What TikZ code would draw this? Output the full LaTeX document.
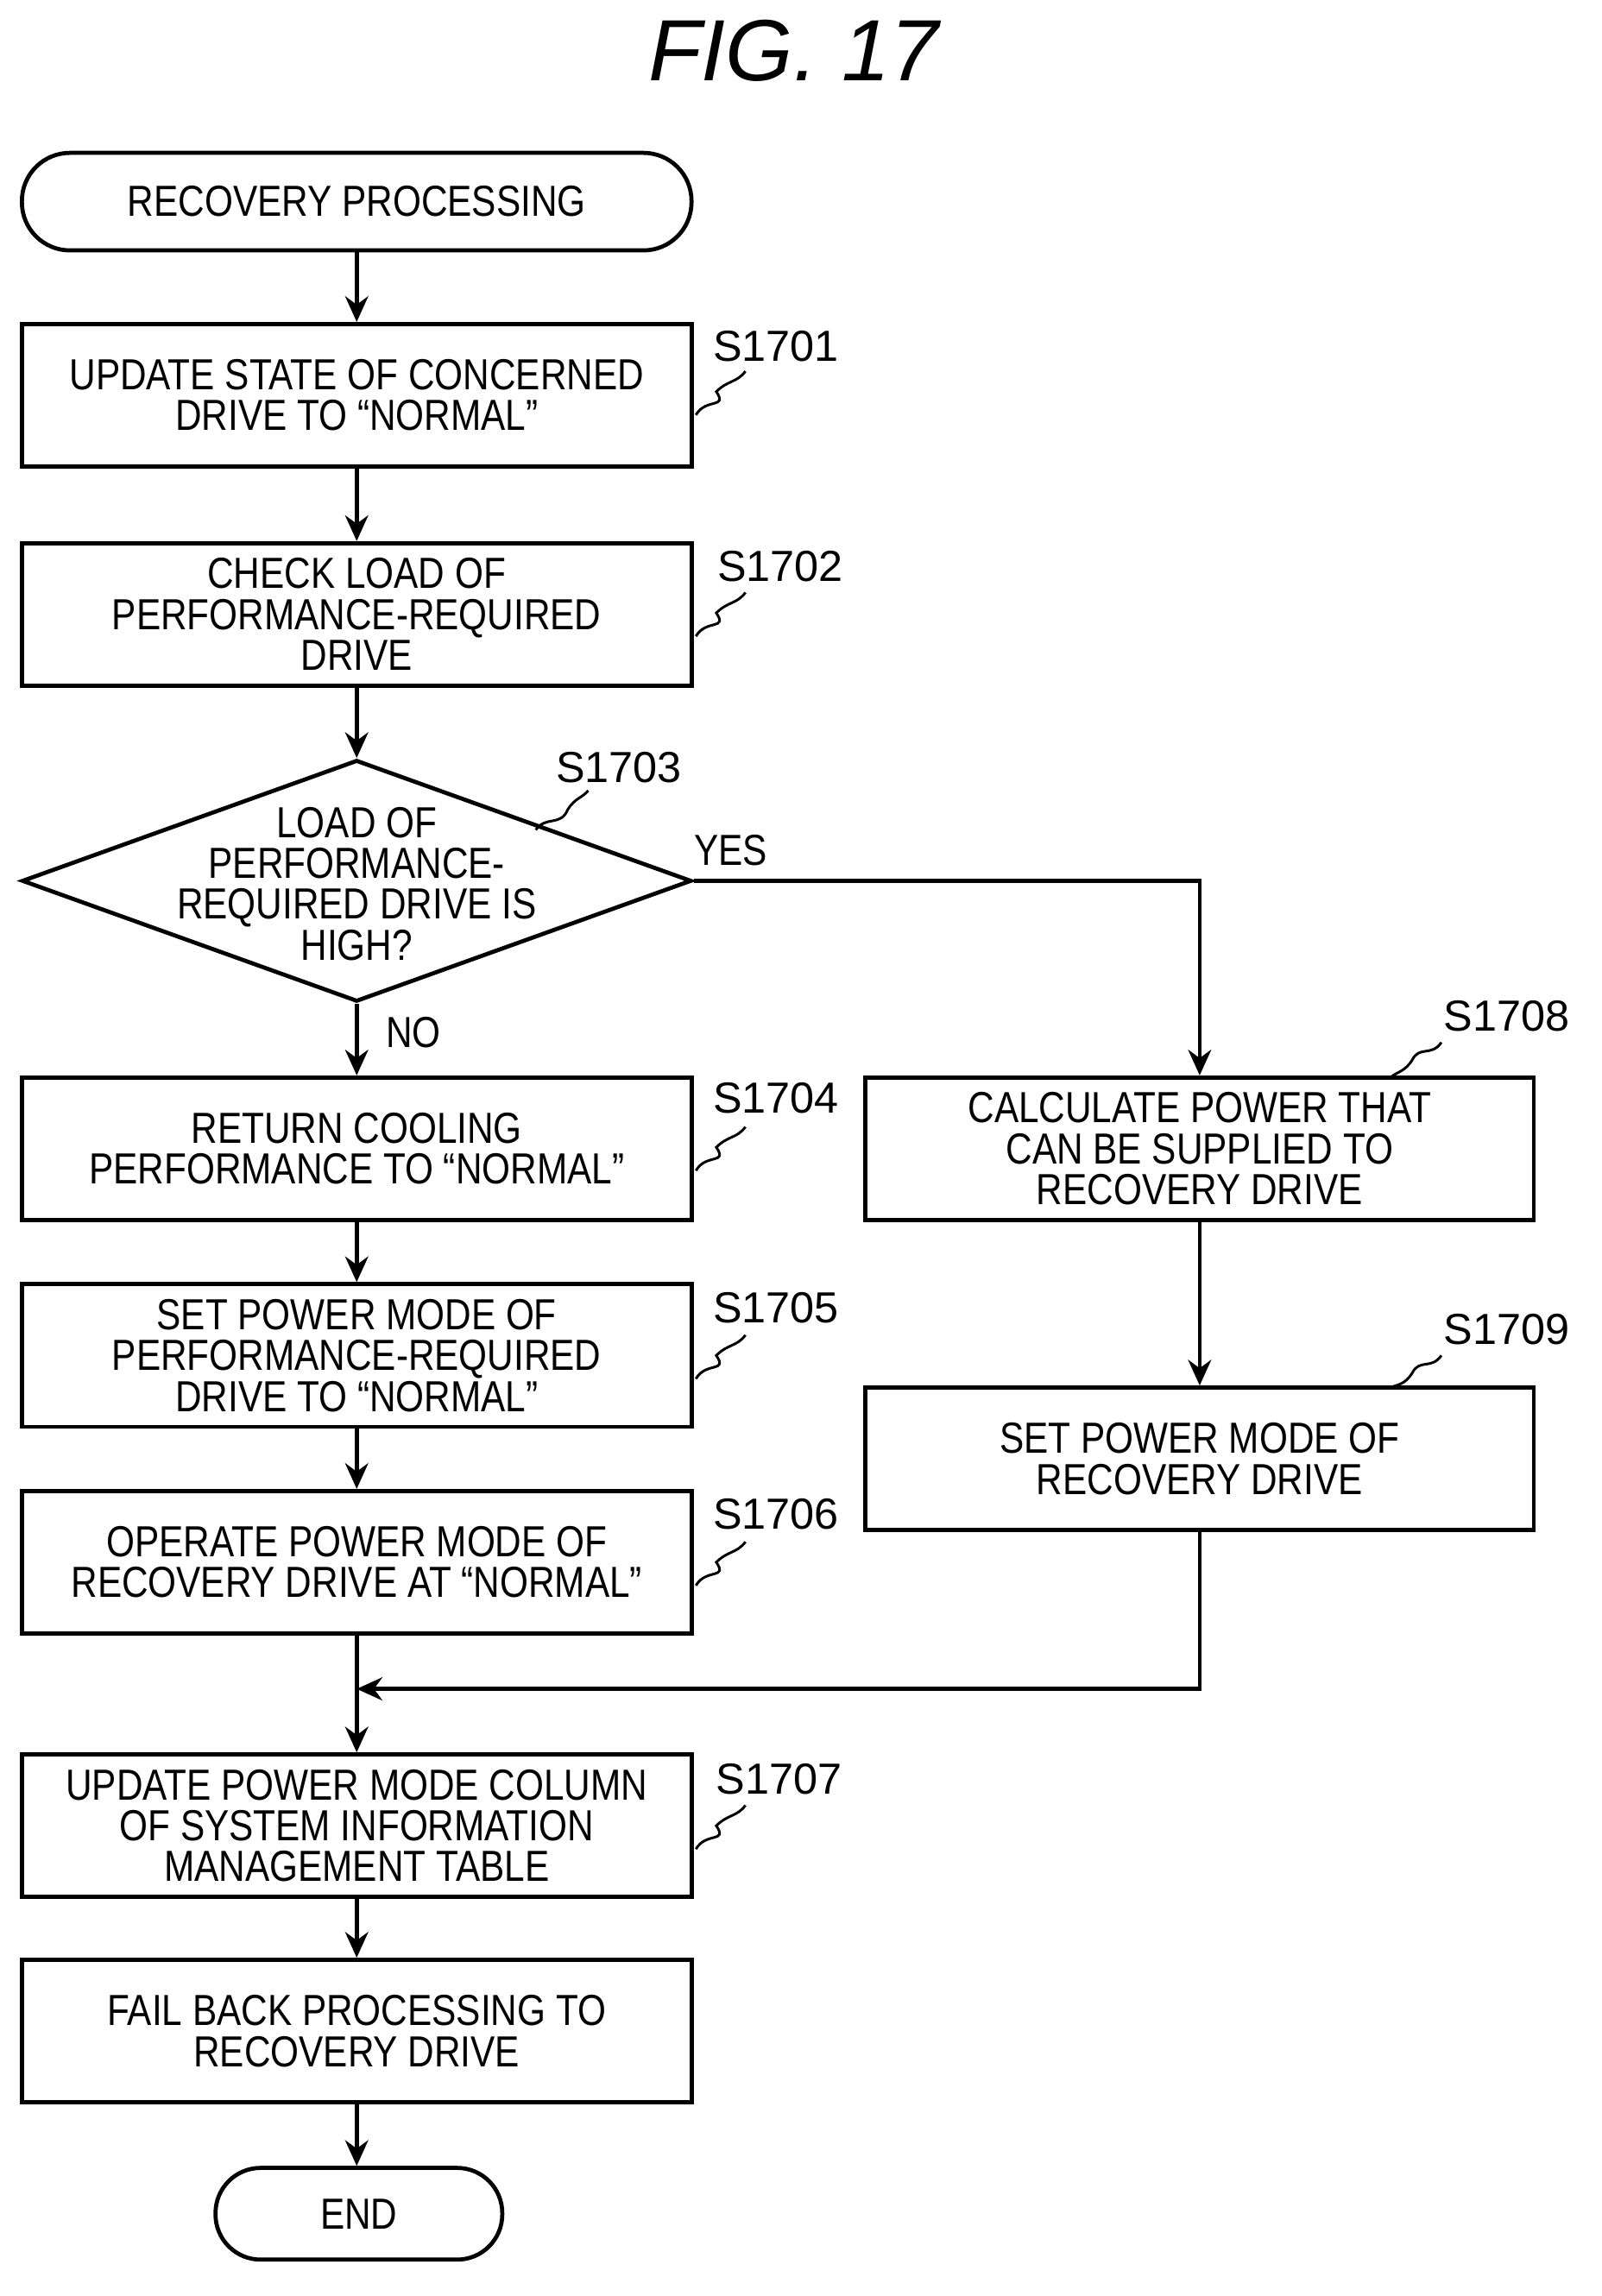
\documentclass[tikz,border=0pt]{standalone}
\usepackage{fontspec}
\setmainfont{Liberation Sans}
\newfontfamily\cond{Liberation Sans}[FakeStretch=0.84]
\usetikzlibrary{shapes.geometric,arrows.meta}
\begin{document}
\begin{tikzpicture}[x=0.02cm,y=-0.02cm,
  every node/.style={inner sep=0pt},
  box/.style={draw,line width=1.6pt,align=center,font=\cond\fontsize{17}{16}\selectfont},
  lab/.style={font=\fontsize{17}{18}\selectfont},
  ln/.style={line width=1.6pt},
  arr/.style={ln,-{Stealth[length=10pt,width=9pt]}},
  sq/.style={line width=1pt}]
\useasboundingbox (0,0) rectangle (1100,1577);
\node[font=\itshape\fontsize{34}{36}\selectfont] (title) at (545,35) {FIG. 17};
\node[box,rounded corners=0.66cm,minimum width=9.2cm,minimum height=1.34cm] (start) at (245,138.5) {RECOVERY PROCESSING};
\node[box,rounded corners=0.62cm,minimum width=3.94cm,minimum height=1.26cm] (end) at (246.5,1520.5) {END};
% boxes
\node[box,minimum width=9.2cm,minimum height=1.96cm] (s1) at (245,271.5) {UPDATE STATE OF CONCERNED\\DRIVE TO “NORMAL”};
\node[box,minimum width=9.2cm,minimum height=1.96cm] (s2) at (245,422) {CHECK LOAD OF\\PERFORMANCE-REQUIRED\\DRIVE};
\node[draw,line width=1.6pt,diamond,aspect=2.77,minimum width=9.2cm,minimum height=3.32cm,inner sep=0pt] (s3) at (245,605) {};
\node[align=center,font=\cond\fontsize{17}{16}\selectfont] (s3t) at (245,607) {LOAD OF\\PERFORMANCE-\\REQUIRED DRIVE IS\\HIGH?};
\node[box,minimum width=9.2cm,minimum height=1.96cm] (s4) at (245,789) {RETURN COOLING\\PERFORMANCE TO “NORMAL”};
\node[box,minimum width=9.2cm,minimum height=1.96cm] (s5) at (245,931) {SET POWER MODE OF\\PERFORMANCE-REQUIRED\\DRIVE TO “NORMAL”};
\node[box,minimum width=9.2cm,minimum height=1.96cm] (s6) at (245,1073) {OPERATE POWER MODE OF\\RECOVERY DRIVE AT “NORMAL”};
\node[box,minimum width=9.2cm,minimum height=1.96cm] (s7) at (245,1254) {UPDATE POWER MODE COLUMN\\OF SYSTEM INFORMATION\\MANAGEMENT TABLE};
\node[box,minimum width=9.2cm,minimum height=1.96cm] (fb) at (245,1395) {FAIL BACK PROCESSING TO\\RECOVERY DRIVE};
\node[box,minimum width=9.18cm,minimum height=1.96cm] (s8) at (824,789) {CALCULATE POWER THAT\\CAN BE SUPPLIED TO\\RECOVERY DRIVE};
\node[box,minimum width=9.18cm,minimum height=1.96cm] (s9) at (824,1002) {SET POWER MODE OF\\RECOVERY DRIVE};
% arrows
\draw[arr] (start) -- (s1);
\draw[arr] (s1) -- (s2);
\draw[arr] (s2) -- (s3.north);
\draw[arr] (s3.south) -- (s4);
\draw[arr] (s4) -- (s5);
\draw[arr] (s5) -- (s6);
\draw[arr] (s6) -- (s7);
\draw[arr] (s7) -- (fb);
\draw[arr] (fb) -- (end.north -| start.south);
\draw[arr] (s3.east) -| (s8.north);
\draw[arr] (s8) -- (s9);
\coordinate (m) at (245,1160);
\draw[arr] (s9.south) |- (m);
\node[font=\cond\fontsize{17}{16}\selectfont] (yes) at (502,584) {YES};
\node[font=\cond\fontsize{17}{16}\selectfont] (no) at (284,709) {NO};
% labels
\node[lab] (l1) at (533,238) {S1701};
\node[lab] (l2) at (536,389) {S1702};
\node[lab] (l3) at (425,527) {S1703};
\node[lab] (l4) at (533,754) {S1704};
\node[lab] (l5) at (533,898) {S1705};
\node[lab] (l6) at (533,1040) {S1706};
\node[lab] (l7) at (535,1222) {S1707};
\node[lab] (l8) at (1035,698) {S1708};
\node[lab] (l9) at (1035,913) {S1709};
\foreach \x/\y in {478/285,478/437,478/804,478/947,478/1089,478/1270}
  \draw[sq] (\x,\y) .. controls (485,\y-12) and (500,\y-4) .. (\x+14,\y-16) .. controls (\x+22,\y-24) and (\x+28,\y-22) .. (\x+34,\y-30);
\draw[sq] (368,570) .. controls (375,560) and (385,568) .. (390,556) .. controls (395,548) and (400,548) .. (404,543);
\draw[sq] (990,716) .. controls (983,726) and (975,718) .. (970,728) .. controls (965,736) and (960,736) .. (955,740);
\draw[sq] (990,931) .. controls (983,941) and (975,933) .. (970,943) .. controls (965,951) and (960,951) .. (955,953);
\end{tikzpicture}
\end{document}
